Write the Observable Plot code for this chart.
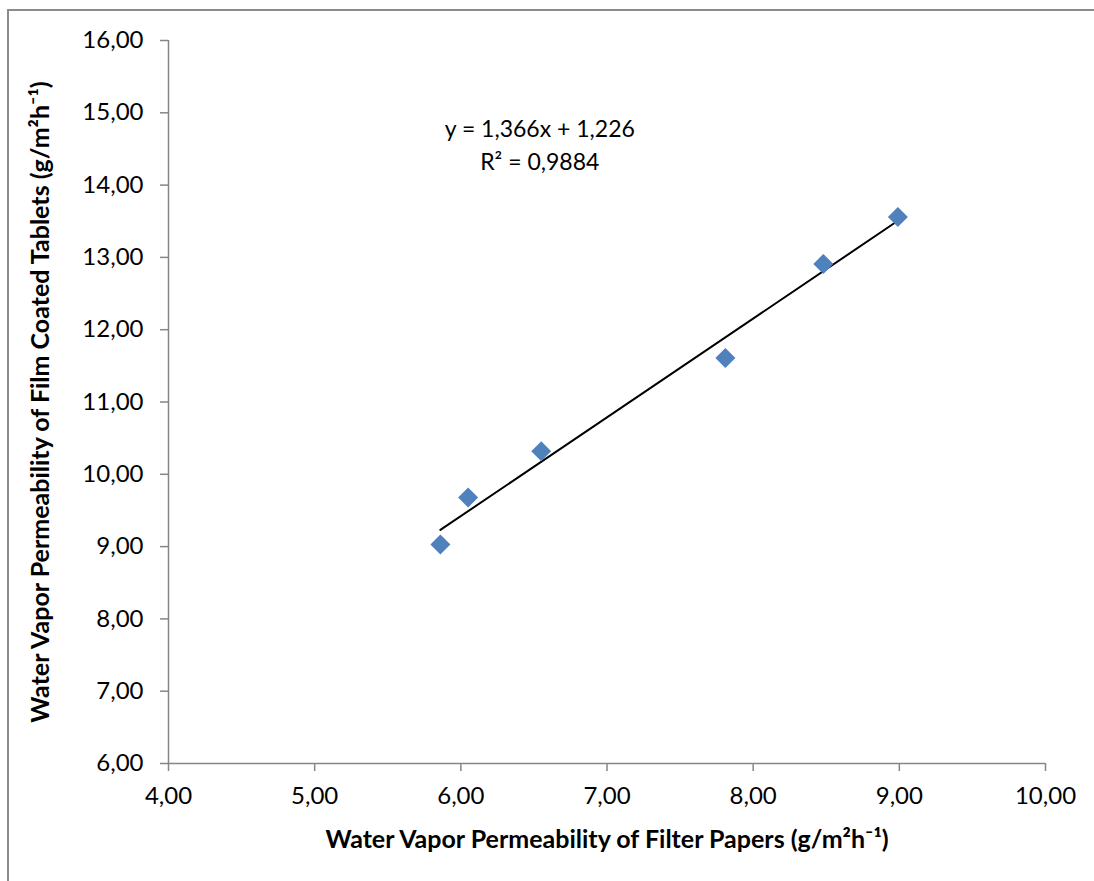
<!DOCTYPE html>
<html><head><meta charset="utf-8">
<script src="https://cdn.jsdelivr.net/npm/d3@7"></script>
<script src="https://cdn.jsdelivr.net/npm/@observablehq/plot@0.6"></script>
<style>
body{margin:0;background:#fff;font-family:Lato,sans-serif}
#wrap{position:relative;width:1094px;height:881px;overflow:hidden}
#border{position:absolute;left:7px;top:9px;right:-10px;bottom:-10px;border-left:2px solid #8c8c8c;border-top:2px solid #8c8c8c;pointer-events:none}
</style>
</head><body>
<div id="wrap"><div id="border"></div></div>
<script>
// Data
const filterPapers = [5.86, 6.05, 6.55, 7.81, 8.48, 8.99];
const filmCoated   = [9.03, 9.68, 10.32, 11.61, 12.91, 13.56];
const slope = 1.366, intercept = 1.226, r2 = 0.9884;
const xTicks = [4, 5, 6, 7, 8, 9, 10];
const yTicks = [6, 7, 8, 9, 10, 11, 12, 13, 14, 15, 16];
const xTitle = "Water Vapor Permeability of Filter Papers (g/m²h⁻¹)";
const yTitle = "Water Vapor Permeability of Film Coated Tablets (g/m²h⁻¹)";
const fmt = v => v.toFixed(2).replace(".", ",");
const eqText = `y = ${String(slope).replace(".", ",")}x + ${String(intercept).replace(".", ",")}\nR² = ${String(r2).replace(".", ",")}`;

const points = filterPapers.map((x, i) => ({x, y: filmCoated[i]}));
const xMin = d3.min(filterPapers), xMax = d3.max(filterPapers);
const trend = [xMin, xMax].map(x => ({x, y: slope * x + intercept}));

const axisColor = "#868686";
const chart = Plot.plot({
  width: 1094, height: 881,
  marginLeft: 168, marginRight: 49, marginTop: 40, marginBottom: 118,
  style: {fontFamily: "Lato, sans-serif", background: "transparent"},
  x: {domain: [4, 10], ticks: xTicks, tickFormat: fmt, label: null},
  y: {domain: [6, 16], ticks: yTicks, tickFormat: fmt, label: null},
  marks: [
    Plot.axisX(xTicks, {tickSize: 8, tickPadding: 15, fontSize: 24, stroke: axisColor, strokeWidth: 1.5, fill: "black", tickFormat: fmt, label: null}),
    Plot.axisY(yTicks, {tickSize: 8, tickPadding: 17, fontSize: 24, stroke: axisColor, strokeWidth: 1.5, fill: "black", tickFormat: fmt, label: null}),
    Plot.ruleY([6], {stroke: axisColor, strokeWidth: 1.5}),
    Plot.ruleX([4], {stroke: axisColor, strokeWidth: 1.5}),
    Plot.line(trend, {x: "x", y: "y", stroke: "black", strokeWidth: 2}),
    Plot.dot(points, {x: "x", y: "y", symbol: "diamond2", r: 9, fill: "#4F81BD", stroke: "none"}),
    Plot.text([eqText], {x: 6.54, y: 14.58, text: d => d, fontSize: 23, lineHeight: 1.4, fill: "black", textAnchor: "middle"}),
    Plot.text([xTitle], {frameAnchor: "bottom", dy: 84, text: d => d, fontSize: 25, fontWeight: "bold", fill: "black", textAnchor: "middle"}),
    Plot.text([yTitle], {frameAnchor: "left", dx: -128, rotate: -90, text: d => d, fontSize: 25, fontWeight: "bold", fill: "black", textAnchor: "middle"})
  ]
});
document.getElementById("wrap").prepend(chart);
</script>
</body></html>
